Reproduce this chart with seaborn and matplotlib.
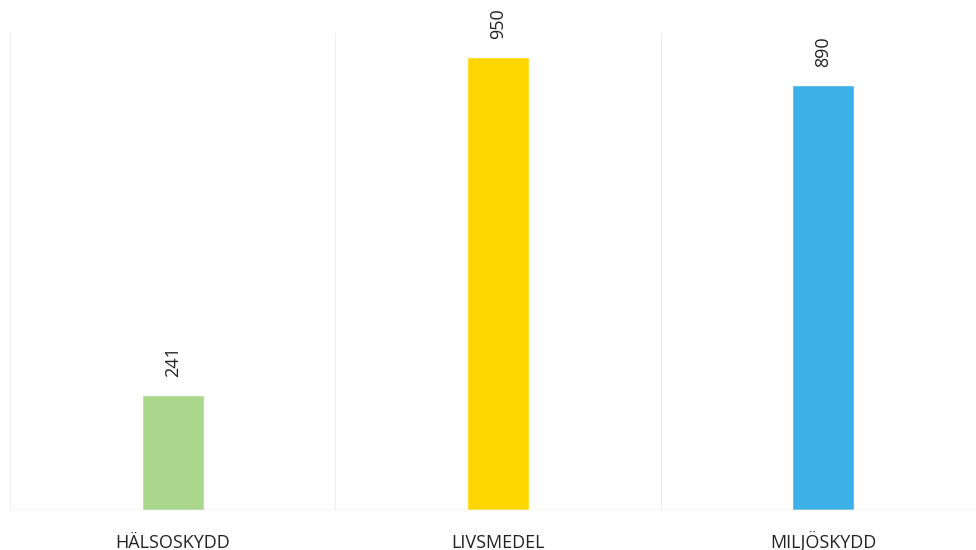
import matplotlib.pyplot as plt
import seaborn as sns
import pandas as pd

# Data
categories = ["HÄLSOSKYDD", "LIVSMEDEL", "MILJÖSKYDD"]
values = [241, 950, 890]
bar_colors = ["#a9d88c", "#ffd600", "#3db0e8"]

df = pd.DataFrame({"kategori": categories, "antal": values})

sns.set_style("white")
plt.rcParams["font.family"] = ["Open Sans", "DejaVu Sans"]

fig = plt.figure(figsize=(9.76, 5.5), dpi=100)
ax = fig.add_axes([10 / 976, 40 / 550, 976 / 976, 477 / 550])

sns.barplot(data=df, x="kategori", y="antal", hue="kategori",
            palette=bar_colors, width=0.19, saturation=1, legend=False, ax=ax)

ax.set_xlim(-0.5, 2.5)
ax.set_ylim(0, 1000)

# faint vertical gridlines between categories
for xb in [-0.5, 0.5, 1.5, 2.5]:
    ax.axvline(xb, color="#ededed", lw=0.8, zorder=0)
ax.axhline(0, color="#d9d9d9", lw=1.0, zorder=3)

for c in ax.containers:
    ax.bar_label(c, fmt="%d", rotation=90,
                 padding=13, fontsize=13, color="#222222")

sns.despine(ax=ax, left=True, bottom=True, top=True, right=True)
ax.set_xlabel("")
ax.set_ylabel("")
ax.set_yticks([])
ax.tick_params(axis="x", length=0, pad=27, labelsize=13, labelcolor="#222222")
for lbl in ax.get_xticklabels():
    lbl.set_verticalalignment("baseline")

fig.savefig("out.png", dpi=100, facecolor="white")
